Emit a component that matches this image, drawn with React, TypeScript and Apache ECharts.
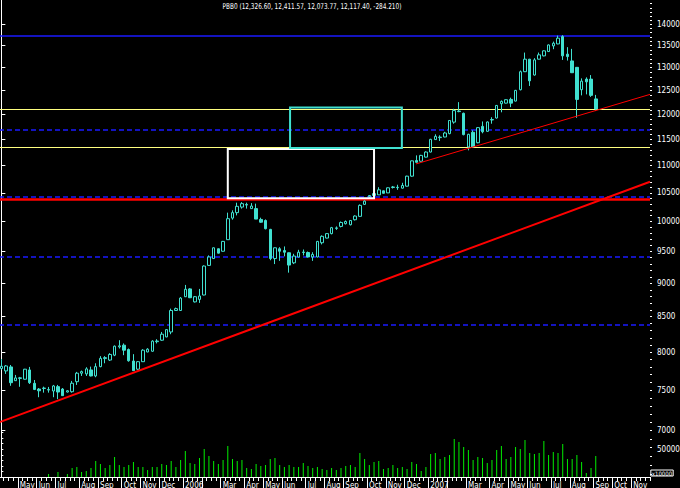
import React, { useEffect, useRef } from "react";
import * as echarts from "echarts";

const TITLE = "PBB0 (12,326.60, 12,411.57, 12,073.77, 12,117.40, -284.210)";

// Weekly bars, index 0 = week ending 2005-04-08
const open = [
  7780, 7749, 7802, 7621, 7650, 7640, 7762, 7587, 7513, 7520,
  7500, 7488, 7544, 7513, 7475, 7479, 7608, 7719, 7710, 7762,
  7683, 7806, 7914, 7894, 7960, 8074, 8097, 8037, 7881, 7772,
  7872, 8004, 8014, 8146, 8166, 8212, 8282, 8591, 8591, 8795,
  8913, 8718, 8755, 8821, 9278, 9387, 9545, 9505, 9694, 10058,
  10152, 10249, 10284, 10222, 10222, 10035, 10017, 9866, 9387, 9545,
  9516, 9480, 9319, 9412, 9484, 9484, 9412, 9412, 9644, 9721,
  9795, 9883, 9916, 9962, 9945, 10030, 10088, 10296, 10430, 10453,
  10465, 10537, 10500, 10597, 10594, 10585, 10621, 10804, 11096, 11083,
  11161, 11258, 11500, 11539, 11551, 11618, 11848, 12063, 12027, 11356,
  11644, 11438, 11762, 11663, 11891, 11931, 12226, 12238, 12316, 12281,
  12522, 12912, 13191, 12839, 13191, 13266, 13364, 13493, 13539, 13710,
  13305, 13152, 13009, 12522, 12750, 12750, 12326.6,
];
const high = [
  7908, 7828, 7828, 7696, 7670, 7776, 7802, 7630, 7526, 7544,
  7540, 7566, 7566, 7526, 7500, 7618, 7736, 7754, 7798, 7806,
  7851, 7947, 7947, 7987, 8093, 8166, 8121, 8051, 7974, 7881,
  8042, 8056, 8166, 8180, 8282, 8319, 8618, 8633, 8790, 8974,
  8924, 8806, 8913, 9278, 9438, 9566, 9549, 9674, 10152, 10192,
  10326, 10336, 10326, 10319, 10309, 10065, 10035, 9875, 9566, 9571,
  9583, 9484, 9464, 9528, 9533, 9500, 9489, 9674, 9766, 9800,
  9908, 9916, 10000, 10017, 10026, 10105, 10296, 10366, 10462, 10506,
  10602, 10542, 10597, 10625, 10647, 10683, 10812, 11096, 11194, 11204,
  11272, 11515, 11604, 11584, 11653, 11891, 12120, 12259, 12042, 11614,
  11683, 11743, 11861, 11861, 11947, 12200, 12295, 12316, 12352, 12518,
  12938, 13341, 13198, 13214, 13341, 13391, 13527, 13593, 13733, 13743,
  13464, 13425, 13016, 12766, 12788, 12838, 12411.57,
];
const low = [
  7769, 7710, 7555, 7617, 7542, 7637, 7578, 7500, 7409, 7467,
  7467, 7409, 7385, 7426, 7469, 7467, 7566, 7683, 7683, 7677,
  7666, 7798, 7851, 7881, 7947, 8051, 7960, 7872, 7749, 7762,
  7868, 8000, 8007, 8121, 8157, 8208, 8250, 8584, 8584, 8790,
  8775, 8709, 8703, 8816, 9272, 9381, 9469, 9500, 9691, 10030,
  10105, 10222, 10222, 10218, 10041, 9978, 9866, 9360, 9299, 9350,
  9422, 9164, 9299, 9407, 9438, 9407, 9350, 9407, 9616, 9716,
  9783, 9858, 9900, 9950, 9933, 10017, 10079, 10288, 10418, 10436,
  10462, 10488, 10497, 10579, 10555, 10579, 10616, 10793, 11057, 11077,
  11155, 11252, 11496, 11473, 11545, 11604, 11816, 12049, 11584, 11291,
  11350, 11428, 11624, 11654, 11816, 11921, 12048, 12232, 12154, 12274,
  12507, 12905, 12602, 12828, 13187, 13255, 13357, 13418, 13532, 13175,
  13160, 12883, 11935, 12401, 12422, 12369, 12073.77,
];
const close = [
  7811, 7815, 7595, 7657, 7659, 7772, 7595, 7508, 7491, 7526,
  7507, 7553, 7475, 7429, 7491, 7588, 7719, 7740, 7776, 7683,
  7806, 7917, 7927, 7970, 8083, 8088, 8028, 7885, 7753, 7872,
  8028, 8042, 8153, 8155, 8250, 8315, 8591, 8618, 8775, 8908,
  8780, 8795, 8806, 9268, 9412, 9561, 9474, 9666, 10048, 10152,
  10262, 10309, 10296, 10267, 10041, 9988, 9878, 9387, 9561, 9505,
  9489, 9283, 9427, 9489, 9492, 9412, 9453, 9666, 9750, 9795,
  9895, 9891, 9983, 10000, 10017, 10093, 10279, 10354, 10453, 10488,
  10555, 10493, 10592, 10607, 10601, 10634, 10804, 11090, 11063, 11194,
  11258, 11505, 11564, 11549, 11630, 11881, 12084, 12074, 11598, 11604,
  11356, 11737, 11654, 11851, 11901, 12190, 12274, 12310, 12238, 12507,
  12912, 13191, 12713, 13175, 13289, 13380, 13516, 13555, 13672, 13266,
  13250, 12890, 12316, 12706, 12691, 12401.6, 12117.4,
];
const volume: (number | null)[] = [
  null, null, null, null, null, null, null, null, null, null,
  5400, null, 9000, null, 5400, 16200, 18000, 9000, 10800, 16200,
  28800, 23400, 16200, 21600, 36000, 21600, 18000, 21600, 27000, 18000,
  18000, 12600, 18000, 18000, 23400, 21600, 28800, 18000, 30600, 46800,
  25200, 23400, 34200, 50400, 37800, 28800, 23400, 30600, 55800, 32400,
  28800, 30600, 16200, 14400, 23400, 19800, 21600, 32400, 34200, 21600,
  18000, 21600, 18000, 18000, 25200, 19800, 16200, 18000, 14400, 12600,
  16200, 12600, 16200, 19800, 21600, 18000, 43200, 32400, 21600, 27000,
  28800, 14400, 16200, 21600, 16200, 18000, 14400, 27000, 23400, 10800,
  18000, 41400, 43200, 32400, 36000, 39600, 68400, 63000, 54000, 48600,
  30600, 36000, 34200, 25200, 30600, 48600, 55800, 32400, 36000, 54000,
  50400, 66600, 43200, 41400, 43200, 64800, 39600, 45000, 43200, 59400,
  32400, 32400, 39600, 27000, 7200, 16200, 37800,
];

// month ticks (week index of the first week of each month) and their labels
const monthTickWeek = [4, 8, 12, 17, 21, 26, 30, 34, 39, 43, 47, 52, 56, 60, 65, 69, 73, 78, 82, 86, 91, 95, 99, 104, 108, 112, 117, 121, 126, 130, 134];
const monthTickLabel = ["May", "Jun", "Jul", "Aug", "Sep", "Oct", "Nov", "Dec", "2006", "", "Mar", "Apr", "May", "Jun", "Jul", "Aug", "Sep", "Oct", "Nov", "Dec", "2007", "", "Mar", "Apr", "May", "Jun", "Jul", "Aug", "Sep", "Oct", "Nov"];
const priceLabels = [7000, 7500, 8000, 8500, 9000, 9500, 10000, 10500, 11000, 11500, 12000, 12500, 13000, 13500, 14000];
const volumeTicks = [10000, 20000, 30000, 40000, 50000, 60000, 70000, 80000];
const volumeLabels = [50000];

// horizontal levels
const blueSolidLevels = [13740];
const yellowLevels = [12117.4, 11344];
const blueDashedLevels = [11700, 10430, 9415, 8389];
const redLevels = [10378];

// trend lines [weekIndex, price]
const trendLower = [[-0.5, 7098], [137.5, 10702]];
const trendUpper = [[87.9, 11032], [137.5, 12422]];

// boxes [[weekFrom, priceTop], [weekTo, priceBottom]]
const whiteBox = [[48.0, 11317], [79.0, 10406]];
const cyanBox = [[61.2, 12148], [84.9, 11336]];

const PRICE_AXIS_MIN = 6466;
const PRICE_AXIS_MAX = 14593;
const WEEK_MIN = -0.5;
const WEEK_MAX = 137.5;
const WEEK_COUNT = 138;
const VOLUME_MAX = 81000;

const CYAN = "#40e0d0";
const BLUE = "#1a1aff";
const FONT = '"Liberation Sans Narrow", "DejaVu Sans Condensed", "Liberation Sans", sans-serif';

const lg = (v: number) => Math.log10(v);

export default function App() {
  const ref = useRef<HTMLDivElement>(null);
  useEffect(() => {
    document.body.style.margin = "0";
    document.body.style.background = "#000";
    const chart = echarts.init(ref.current!, null, { renderer: "svg" });

    const candleData = open.map((o, i) => [i, lg(o), lg(close[i]), lg(low[i]), lg(high[i])]);
    const volData = volume.map((v, i) => [i, v == null ? "-" : v]);
    const weekTicks: number[] = [];
    for (let i = 0; i <= WEEK_COUNT; i++) weekTicks.push(i - 0.5);
    const monthTicks = monthTickWeek.map((w) => w - 0.5);
    const minorPrice: number[] = [];
    for (let p = 6500; p <= 14500; p += 100) minorPrice.push(lg(p));

    const lvl = (v: number, color: string, width: number, type: any) => ({
      yAxis: lg(v),
      lineStyle: { color, width, type },
    });
    const box = (b: number[][], color: string) => [
      { coord: [b[0][0], lg(b[0][1])], itemStyle: { color: "rgba(0,0,0,0)", borderColor: color, borderWidth: 2 } },
      { coord: [b[1][0], lg(b[1][1])] },
    ];

    const option: any = {
      animation: false,
      backgroundColor: "#000",
      grid: [
        { left: -1, right: 30, top: 0, bottom: 11, containLabel: false, outerBoundsMode: "none" },
        { left: -1, right: 30, top: 432, bottom: 11, containLabel: false, outerBoundsMode: "none" },
      ],
      xAxis: [
        {
          type: "value", gridIndex: 0, min: WEEK_MIN, max: WEEK_MAX, position: "bottom",
          axisLine: { show: true, onZero: false, lineStyle: { color: "#fff", width: 1 } },
          axisTick: { show: true, customValues: weekTicks, length: 4, lineStyle: { color: "#fff" } },
          axisLabel: { show: false },
          splitLine: { show: false },
        },
        {
          type: "value", gridIndex: 1, min: WEEK_MIN, max: WEEK_MAX, position: "bottom",
          axisLine: { show: false, onZero: false },
          axisTick: { show: true, customValues: monthTicks, length: 11, lineStyle: { color: "#fff" } },
          axisLabel: {
            show: true, customValues: monthTicks, color: "#fff", fontSize: 8, fontFamily: FONT,
            align: "left", margin: 4, padding: [0, 0, 0, 2], hideOverlap: false,
            formatter: (v: number) => {
              const k = monthTickWeek.indexOf(Math.round(v + 0.5));
              return k >= 0 ? monthTickLabel[k] : "";
            },
          },
          splitLine: { show: false },
        },
      ],
      yAxis: [
        {
          type: "value", gridIndex: 0, position: "right", min: lg(PRICE_AXIS_MIN), max: lg(PRICE_AXIS_MAX),
          axisLine: { show: true, lineStyle: { color: "#fff", width: 1 } },
          axisTick: { show: true, customValues: priceLabels.map(lg), length: 4, lineStyle: { color: "#fff" } },
          axisLabel: {
            show: true, customValues: priceLabels.map(lg), color: "#fff", fontSize: 8, fontFamily: FONT, margin: 7,
            formatter: (v: number) => String(Math.round(Math.pow(10, v) / 100) * 100),
          },
          splitLine: { show: false },
        },
        {
          type: "value", gridIndex: 0, position: "right", min: lg(PRICE_AXIS_MIN), max: lg(PRICE_AXIS_MAX),
          axisLine: { show: false },
          axisTick: { show: true, customValues: minorPrice, length: 2, lineStyle: { color: "#fff" } },
          axisLabel: { show: false },
          splitLine: { show: false },
        },
        {
          type: "value", gridIndex: 1, position: "right", min: 0, max: VOLUME_MAX,
          axisLine: { show: false },
          axisTick: { show: true, customValues: volumeTicks, length: 2, lineStyle: { color: "#fff" } },
          axisLabel: {
            show: true, customValues: volumeLabels, color: "#fff", fontSize: 8, fontFamily: FONT, margin: 7,
            formatter: (v: number) => String(v),
          },
          splitLine: { show: false },
        },
      ],
      series: [
        {
          type: "bar", xAxisIndex: 1, yAxisIndex: 2, data: volData, barWidth: 1,
          itemStyle: { color: "#00ee00" }, silent: true,
        },
        {
          type: "candlestick", xAxisIndex: 0, yAxisIndex: 0, data: candleData, barWidth: 3, z: 3,
          itemStyle: {
            color: "#000", color0: CYAN, borderColor: CYAN, borderColor0: CYAN, borderColorDoji: CYAN, borderWidth: 1,
          },
          silent: true,
          markLine: {
            silent: true, symbol: ["none", "none"], label: { show: false }, z: 2, precision: 12,
            data: [
              ...blueSolidLevels.map((v) => lvl(v, BLUE, 1.5, "solid")),
              ...yellowLevels.map((v) => lvl(v, "#ffff80", 1.2, "solid")),
              ...blueDashedLevels.map((v) => lvl(v, BLUE, 1.5, [5, 3])),
              ...redLevels.map((v) => lvl(v, "#ff0000", 2.5, "solid")),
            ],
          },
        },
        {
          type: "line", xAxisIndex: 0, yAxisIndex: 0, z: 4, silent: true, symbol: "none",
          data: trendLower.map((p) => [p[0], lg(p[1])]),
          lineStyle: { color: "#ff0000", width: 2 },
        },
        {
          type: "line", xAxisIndex: 0, yAxisIndex: 0, z: 4, silent: true, symbol: "none",
          data: trendUpper.map((p) => [p[0], lg(p[1])]),
          lineStyle: { color: "#ff0000", width: 1 },
          markArea: {
            silent: true, z: 10,
            data: [box(whiteBox, "#ffffff"), box(cyanBox, CYAN)],
          },
        },
      ],
      graphic: [
        {
          type: "text", x: 312, y: 6, silent: true, scaleX: 0.8,
          style: { text: TITLE, fill: "#fff", font: `8px ${FONT}`, align: "center", verticalAlign: "middle" },
        },
        {
          type: "text", x: 662, y: 473, silent: true,
          style: {
            text: "x10000", fill: "#fff", font: `6px ${FONT}`, align: "center", verticalAlign: "middle",
            borderColor: "#fff", borderWidth: 1, padding: [0, 1, 0, 1],
          },
        },
      ],
    };
    chart.setOption(option);
    return () => chart.dispose();
  }, []);
  return (
    <div
      ref={ref}
      style={{ position: "absolute", left: 0, top: 0, width: 680, height: 488, background: "#000" }}
    />
  );
}
